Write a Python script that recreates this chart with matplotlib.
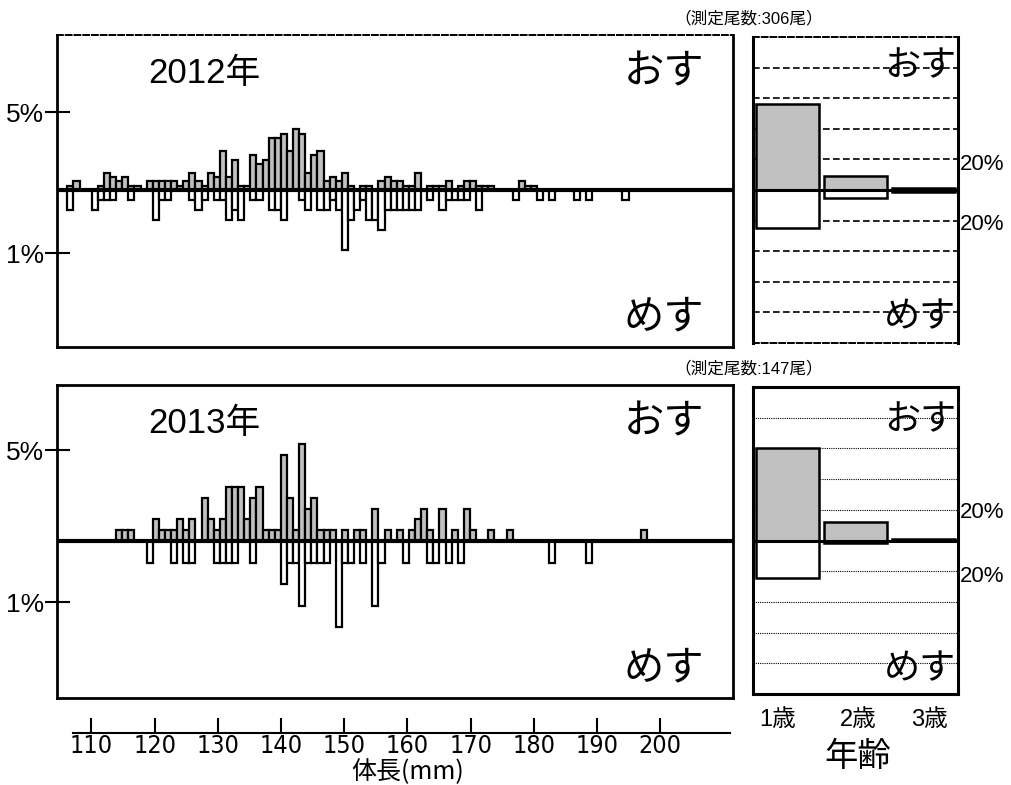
import numpy as np
import matplotlib.pyplot as plt
from matplotlib import font_manager

plt.rcParams['font.family'] = ['Liberation Sans', 'Noto Sans CJK JP', 'DejaVu Sans']

W, H = 1012, 785

# 2012: body length classes (mm, 1 mm bins), counts
len_2012 = np.arange(106, 198)
male_2012 = np.array([
    1, 2, 0, 0, 0, 1, 4, 3, 2, 3,
    1, 1, 0, 2, 2, 2, 2, 2, 1, 2,
    4, 2, 1, 4, 3, 9, 3, 7, 1, 1,
    8, 6, 7, 12, 12, 13, 9, 14, 13, 4,
    8, 9, 2, 3, 2, 4, 1, 0, 1, 1,
    0, 2, 3, 2, 2, 1, 1, 4, 0, 1,
    1, 1, 2, 0, 1, 2, 2, 1, 1, 1,
    0, 0, 0, 0, 2, 1, 1, 0, 0, 0,
    0, 0, 0, 0, 0, 0, 0, 0, 0, 0, 0, 0])
female_2012 = np.array([
    2, 0, 0, 0, 2, 1, 1, 1, 0, 0,
    1, 0, 0, 0, 3, 1, 1, 0, 0, 0,
    1, 2, 1, 0, 1, 1, 3, 2, 3, 0,
    1, 1, 0, 2, 2, 3, 0, 0, 1, 2,
    0, 2, 2, 1, 2, 6, 3, 2, 1, 3,
    3, 4, 2, 2, 2, 2, 2, 2, 0, 1,
    0, 2, 1, 1, 1, 1, 0, 2, 0, 0,
    0, 0, 0, 1, 0, 0, 0, 1, 0, 1,
    0, 0, 0, 1, 0, 1, 0, 0, 0, 0, 0, 1])
n_male_2012, n_female_2012 = 213, 93

# 2013
len_2013 = np.arange(114, 201)
male_2013 = np.array([
    1, 1, 1, 0, 0, 0, 2, 1, 1, 1,
    2, 1, 2, 0, 4, 2, 1, 2, 5, 5,
    5, 2, 4, 5, 1, 1, 1, 8, 4, 1,
    9, 3, 4, 1, 1, 1, 0, 1, 0, 1,
    1, 0, 3, 0, 1, 0, 1, 0, 1, 2,
    3, 1, 0, 3, 0, 1, 0, 3, 1, 0,
    0, 1, 0, 0, 1, 0, 0, 0, 0, 0,
    0, 0, 0, 0, 0, 0, 0, 0, 0, 0,
    0, 0, 0, 0, 0, 0, 1])
female_2013 = np.array([
    0, 0, 0, 0, 0, 1, 0, 0, 0, 1,
    0, 1, 1, 0, 0, 0, 1, 1, 1, 1,
    0, 0, 1, 0, 0, 0, 0, 2, 1, 1,
    3, 1, 1, 1, 1, 0, 4, 1, 1, 0,
    1, 0, 3, 1, 0, 0, 0, 1, 0, 0,
    0, 1, 1, 0, 1, 0, 1, 0, 0, 0,
    0, 0, 0, 0, 0, 0, 0, 0, 0, 0,
    0, 1, 0, 0, 0, 0, 0, 1, 0, 0,
    0, 0, 0, 0, 0, 0, 0])
n_male_2013, n_female_2013 = 98, 49

# age composition (% of all fish measured)
ages = ['1歳', '2歳', '3歳']
age_male_2012 = [56.2, 9.3, 1.0]
age_female_2012 = [24.8, 5.2, 1.0]
age_male_2013 = [60.1, 12.2, 0.8]
age_female_2013 = [24.3, 1.5, 0.6]

n_total = [306, 147]
years = ['2012年', '2013年']
length_ticks = [110, 120, 130, 140, 150, 160, 170, 180, 190, 200]

GRAY = '#c0c0c0'


def narrow_font(size):
    # the length labels use a condensed face; pick one if any is installed
    fonts = font_manager.fontManager.ttflist
    prefer = [f for f in fonts if f.name == 'Liberation Sans Narrow' and f.weight in (400, 'normal')
              and f.style == 'normal']
    cond = [f for f in fonts if f.style == 'normal' and f.weight in (400, 'normal')
            and ('condensed' in str(f.stretch) or 'Narrow' in f.name or 'Condensed' in f.name)]
    pick = prefer or cond
    if pick:
        return font_manager.FontProperties(fname=pick[0].fname, size=size)
    return font_manager.FontProperties(family='Liberation Sans', size=size - 3)


def px_axes(left, top, right, bottom):
    return fig.add_axes([left / W, 1 - bottom / H, (right - left) / W, (bottom - top) / H])


def ftext(x, y, s, **kw):
    return fig.text(x / W, 1 - y / H, s, **kw)


def draw_hist(ax, lengths, male, female, n_m, n_f, ylim, ytick_pos):
    m_pct = male / n_m * 100
    f_pct = female / n_f * 100
    mm = male > 0
    ff = female > 0
    ax.bar(lengths[mm], m_pct[mm], width=1, align='edge', color=GRAY,
           edgecolor='black', linewidth=1.6, zorder=2)
    ax.bar(lengths[ff], -f_pct[ff], width=1, align='edge', color='white',
           edgecolor='black', linewidth=1.6, zorder=2)
    ax.axhline(0, color='black', lw=3, zorder=3)
    ax.set_xlim(104.31, 215.13)
    ax.set_ylim(*ylim)
    ax.set_xticks([])
    ax.set_yticks(ytick_pos)
    ax.set_yticklabels(['5%', '1%'], fontsize=19)
    ax.tick_params(axis='y', direction='inout', length=18, width=1.5, pad=0)
    for sp in ax.spines.values():
        sp.set_linewidth(2)


def draw_age(ax, male, female, grid_style):
    x = np.arange(len(ages))
    ax.bar(x, male, width=0.92, color=GRAY, edgecolor='black', linewidth=1.8, zorder=2)
    ax.bar(x, [-v for v in female], width=0.92, color='white', edgecolor='black',
           linewidth=1.8, zorder=2)
    for g in [-80, -60, -40, -20, 20, 40, 60, 80]:
        ax.axhline(g, color='black', zorder=1, **grid_style)
    ax.axhline(0, color='black', lw=2.2, zorder=3)
    ax.set_xlim(-0.5, 2.5)
    ax.set_ylim(-100, 100)
    ax.set_xticks([])
    ax.set_yticks([])
    for sp in ax.spines.values():
        sp.set_linewidth(2.2)


fig = plt.figure(figsize=(W / 100, H / 100), dpi=100)

# panels: (left, top, right, bottom) in pixels
ax1 = px_axes(57, 35, 733, 347)
ax2 = px_axes(753, 37, 958, 343)
ax3 = px_axes(57, 385, 733, 698)
ax4 = px_axes(753, 387, 958, 694)

draw_hist(ax1, len_2012, male_2012, female_2012, n_male_2012, n_female_2012,
          (-16.95, 16.74), [8.42, -6.8])
draw_hist(ax3, len_2013, male_2013, female_2013, n_male_2013, n_female_2013,
          (-14.87, 14.77), [8.6, -5.8])

draw_age(ax2, age_male_2012, age_female_2012, dict(lw=1.2, linestyle=(0, (4, 2))))
draw_age(ax4, age_male_2013, age_female_2013, dict(lw=0.8, linestyle=(0, (1, 1))))
for sp in ['top', 'bottom']:
    ax2.spines[sp].set_linestyle((0, (3, 1.5)))
    ax2.spines[sp].set_linewidth(1.4)
ax1.spines['top'].set_linestyle((0, (3, 1.5)))
ax1.spines['top'].set_linewidth(1.4)

# text labels
for i, (top, bot) in enumerate([(35, 347), (385, 698)]):
    ftext(148, top + 38, years[i], fontsize=25, va='center', ha='left')
    ftext(704, top + 37, 'おす', fontsize=29, va='center', ha='right')
    ftext(704, bot - 30, 'めす', fontsize=29, va='center', ha='right')
    ftext(823, top - 17, f'（測定尾数:{n_total[i]}尾）', fontsize=12, va='center', ha='right')

ftext(956, 67, 'おす', fontsize=26, va='center', ha='right')
ftext(956, 318, 'めす', fontsize=26, va='center', ha='right')
ftext(956, 421, 'おす', fontsize=26, va='center', ha='right')
ftext(956, 670, 'めす', fontsize=26, va='center', ha='right')

for y in [165, 224, 513, 577]:
    ftext(960, y, '20%', fontsize=16, va='center', ha='left')

for x, lab in zip([778, 858, 929], ages):
    ftext(x, 720, lab, fontsize=17, va='center', ha='center')
ftext(858, 757, '年齢', fontsize=24, va='center', ha='center')

# separate body-length axis under the histograms
ax5 = fig.add_axes([73 / W, 1 - 732.5 / H, 657 / W, 0.0001])
for side in ['top', 'left', 'right']:
    ax5.spines[side].set_visible(False)
ax5.spines['bottom'].set_linewidth(1.5)
ax5.set_xlim(107.09, 211.03)
ax5.set_yticks([])
ax5.set_xticks(length_ticks)
ax5.set_xticklabels([str(t) for t in length_ticks], fontproperties=narrow_font(18))
ax5.tick_params(axis='x', direction='in', length=11, width=1.5, pad=1)
ax5.patch.set_visible(False)
ftext(408, 772, '体長(mm)', fontsize=18, va='center', ha='center',
      family=['Noto Sans CJK JP', 'DejaVu Sans'])

fig.savefig('out.png', dpi=100)
